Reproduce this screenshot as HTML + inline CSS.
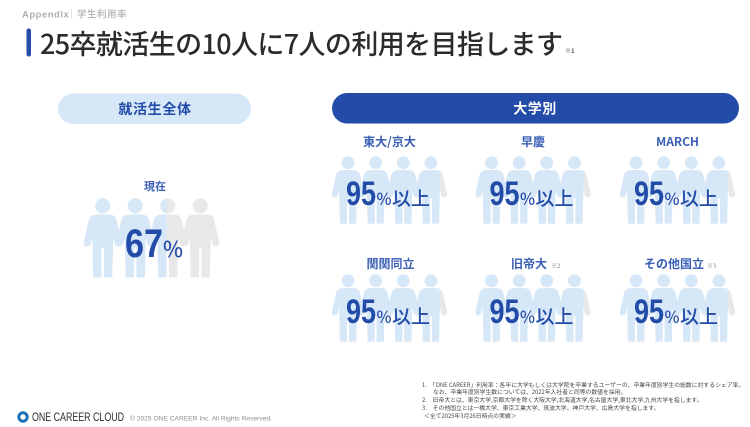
<!DOCTYPE html>
<html lang="ja">
<head>
<meta charset="utf-8">
<title>学生利用率</title>
<style>
html,body{margin:0;padding:0;background:#fff;}
svg{display:block;}
text{font-family:"Liberation Sans","Noto Sans CJK JP",sans-serif;}
.jp{font-family:"Noto Sans CJK JP","Liberation Sans",sans-serif;}
</style>
</head>
<body>
<svg id="slide" xmlns="http://www.w3.org/2000/svg" width="750" height="427" viewBox="0 0 750 427">
  <rect width="750" height="427" fill="#fff"/>
  <text x="22" y="17.5" font-size="9.5" font-weight="700" letter-spacing="0.5" fill="#aeaeae">Appendix</text>
  <rect x="71" y="9" width="0.7" height="9" fill="#cfcfcf"/>
  <text class="jp" x="77" y="17.5" font-size="9.5" font-weight="500" letter-spacing="0.5" fill="#aeaeae">学生利用率</text>
  <rect x="26.5" y="28.5" width="4.5" height="28" rx="2.2" fill="#234BA8"/>
  <text class="jp" x="40" y="54" font-size="27" font-weight="500" textLength="523" fill="#2b2b2b">25卒就活生の10人に7人の利用を目指します</text>
  <text class="jp" x="565" y="53" font-size="6" fill="#555">※<tspan font-weight="700">1</tspan></text>

  <rect x="58" y="93.5" width="193" height="30.5" rx="15.2" fill="#D6E8F8"/>
  <text class="jp" x="155" y="114" font-size="14" font-weight="700" letter-spacing="0.7" text-anchor="middle" fill="#234BA8">就活生全体</text>
  <rect x="332" y="93" width="407" height="30.5" rx="15.2" fill="#234BA8"/>
  <text class="jp" x="535" y="113.5" font-size="14" font-weight="700" letter-spacing="0.5" text-anchor="middle" fill="#fff">大学別</text>

  <g id="charts"></g>

  <g class="jp" font-size="5.83" fill="#444">
    <text class="jp" x="422" y="387">1.　「ONE CAREER」利用率：各年に大学もしくは大学院を卒業するユーザーの、卒業年度別学生の総数に対するシェア率。</text>
    <text class="jp" x="433" y="394">なお、卒業年度別学生数については、2022年入社者と同等の数値を採用。</text>
    <text class="jp" x="422" y="402">2.　旧帝大とは、東京大学,京都大学を除く大阪大学,北海道大学,名古屋大学,東北大学,九州大学を指します。</text>
    <text class="jp" x="422" y="410">3.　その他国立とは一橋大学、東京工業大学、筑波大学、神戸大学、広島大学を指します。</text>
    <text class="jp" x="424" y="418">＜全て2025年3月26日時点の実績＞</text>
  </g>

  <g>
    <circle cx="23" cy="417" r="4.2" fill="none" stroke="#1d6fb8" stroke-width="3"/>
    <text x="32" y="421" font-size="11.5" textLength="92" lengthAdjust="spacingAndGlyphs" fill="#2b2b2b">ONE CAREER CLOUD</text>
  </g>
  <text x="130" y="420.5" font-size="6.6" textLength="142" lengthAdjust="spacingAndGlyphs" fill="#8d8d8d">© 2025 ONE CAREER Inc. All Rights Reserved.</text>
</svg>
<script>
var NS = 'http://www.w3.org/2000/svg';

/* chart data */
var overallLabels = ['現在'];
var overallValues = [67];
var overallSuffix = [''];
var universityLabels = ['東大/京大', '早慶', 'MARCH', '関関同立', '旧帝大', 'その他国立'];
var universityValues = [95, 95, 95, 95, 95, 95];
var universitySuffix = ['以上', '以上', '以上', '以上', '以上', '以上'];
var universityNotes = ['', '', '', '', '※2', '※3'];

/* axis: percentage to fraction of the pictogram width that is filled */
var fillDomainStart = 15;
function fillFraction(v) {
  return Math.max(0, Math.min(1, (v - fillDomainStart) / (100 - fillDomainStart)));
}

var PERSON_BODY = 'M-6,16 L6,16 Q12.5,16 14,22 L18.8,43 Q19.8,48 15.8,48 Q12.6,48 11.8,44 L10.5,38 L9.5,79 L1.2,79 L1.2,49 L-1.2,49 L-1.2,79 L-9.5,79 L-10.5,38 L-11.8,44 Q-12.6,48 -15.8,48 Q-19.8,48 -18.8,43 L-14,22 Q-12.5,16 -6,16 Z';
var PERSON_STEP = 32.5;
var PERSON_COUNT = 4;
var PERSON_HALF = 18.5;
var clipCount = 0;

function mk(tag, attrs, parent) {
  var el = document.createElementNS(NS, tag);
  for (var k in attrs) { el.setAttribute(k, attrs[k]); }
  parent.appendChild(el);
  return el;
}

function drawPeople(parent, color) {
  for (var i = 0; i < PERSON_COUNT; i++) {
    var dx = (i - (PERSON_COUNT - 1) / 2) * PERSON_STEP;
    var person = mk('g', {transform: 'translate(' + dx + ',0)', fill: color}, parent);
    
    
    mk('circle', {cx: 0, cy: 7.3, r: 7.5}, person);
    mk('path', {d: PERSON_BODY}, person);
  }
}

function drawPictogram(root, cx, top, scale, value) {
  var g = mk('g', {transform: 'translate(' + cx + ',' + top + ') scale(' + scale + ')'}, root);
  
  
  var half = (PERSON_COUNT - 1) / 2 * PERSON_STEP + PERSON_HALF;
  var clipId = 'fill-clip-' + (clipCount++);
  var clip = mk('clipPath', {id: clipId}, g);
  mk('rect', {x: -half, y: -2, width: 2 * half * fillFraction(value), height: 84}, clip);
  var base = mk('g', {}, g);
  
  
  drawPeople(base, '#E8E8E8');
  var filled = mk('g', {'clip-path': 'url(#' + clipId + ')'}, g);
  
  
  drawPeople(filled, '#D6E8F8');
}

function addText(parent, str, attrs) {
  var t = mk('text', attrs, parent);
  t.textContent = str;
  return t;
}

var root = document.getElementById('charts');

/* overall group */
overallValues.forEach(function (value, i) {
  var cx = 151.5;
  var g = mk('g', {}, root);
  
  
  var lab = addText(g, overallLabels[i], {'class': 'jp', x: 155, y: 190, 'font-size': 11, 'font-weight': 700, 'text-anchor': 'middle', fill: '#3a5fb5'});
  
  
  drawPictogram(g, cx, 198.5, 1, value);
  var num = addText(g, String(value), {x: 125, y: 257, 'font-size': 40, 'font-weight': 700, fill: '#234BA8', textLength: 38, lengthAdjust: 'spacingAndGlyphs'});
  
  
  var pct = addText(g, '%', {'class': 'jp', x: 163, y: 257, 'font-size': 22, 'font-weight': 500, fill: '#234BA8', textLength: 20, lengthAdjust: 'spacingAndGlyphs'});
  
  
});

/* university groups: three columns, two rows */
var COLUMN_X = [389.5, 533, 677.5];
var ROW_Y = [0, 118];
var LABEL_Y = [146, 268];
var LABEL_SHIFT = [0, 0, 0, 1, -4, -3.5];
var NOTE_X = [0, 0, 0, 0, 551, 707];
universityValues.forEach(function (value, i) {
  var cx = COLUMN_X[i % 3];
  var row = Math.floor(i / 3);
  var dy = ROW_Y[row];
  var g = mk('g', {}, root);
  
  
  var note = universityNotes[i];
  var lab = addText(g, universityLabels[i], {'class': 'jp', x: cx + LABEL_SHIFT[i], y: LABEL_Y[row], 'font-size': 12, 'font-weight': 700, 'text-anchor': 'middle', fill: '#3a5fb5'});
  
  
  if (note) {
    var n = addText(g, note, {'class': 'jp', x: NOTE_X[i], y: LABEL_Y[row], 'font-size': 6, fill: '#888'});
    
    
  }
  drawPictogram(g, cx, 156.5 + dy, 0.85, value);
  var num = addText(g, String(value), {x: cx - 43.5, y: 205 + dy, 'font-size': 34, 'font-weight': 700, fill: '#234BA8', textLength: 30, lengthAdjust: 'spacingAndGlyphs'});
  
  
  var pct = addText(g, '%', {'class': 'jp', x: cx - 13, y: 205 + dy, 'font-size': 17, 'font-weight': 500, fill: '#234BA8', textLength: 15, lengthAdjust: 'spacingAndGlyphs'});
  
  
  var suf = addText(g, universitySuffix[i], {'class': 'jp', x: cx + 2.5, y: 205 + dy, 'font-size': 19, 'font-weight': 500, fill: '#234BA8'});
  
  
});
</script>
</body>
</html>
